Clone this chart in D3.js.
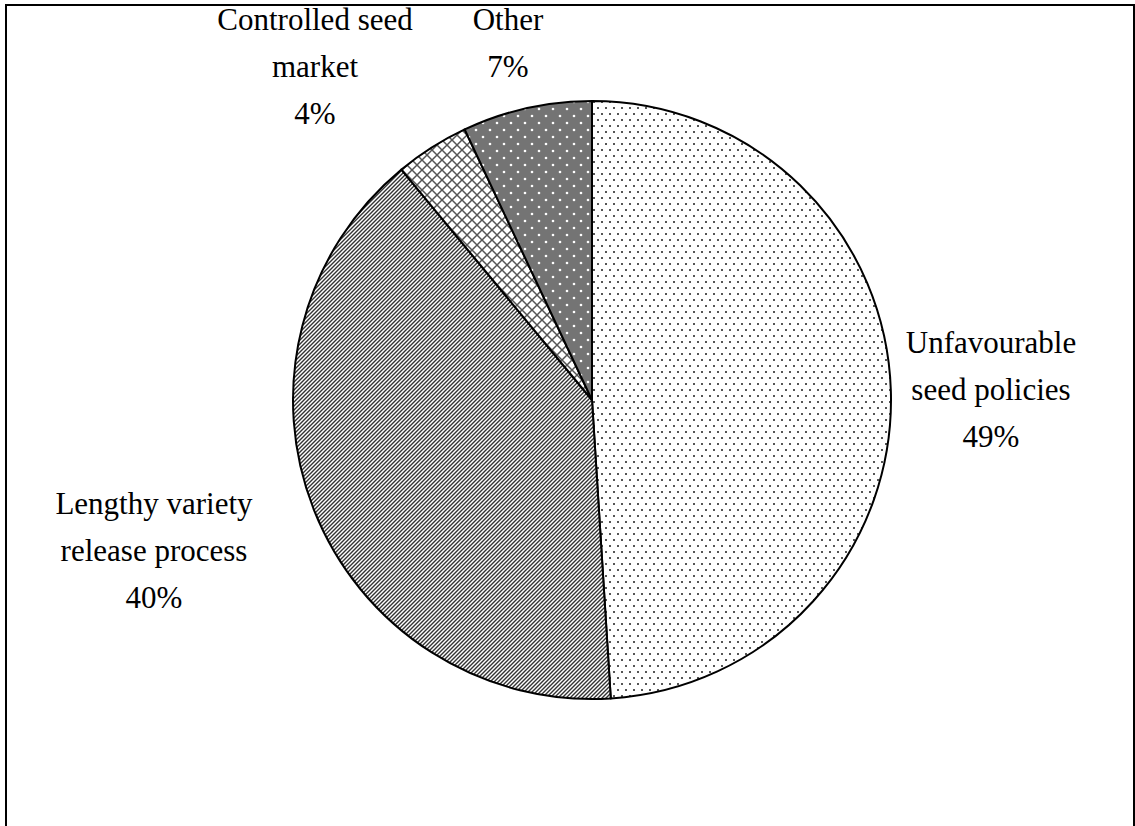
<!DOCTYPE html>
<html>
<head>
<meta charset="utf-8">
<script src="https://cdn.jsdelivr.net/npm/d3@7"></script>
<style>
  body{margin:0;background:#fff;}
  svg{display:block;}
</style>
</head>
<body>
<script>
// chart data
const categories=["Unfavourable seed policies","Lengthy variety release process","Controlled seed market","Other"]
const values=[49,40,4,7]
const labelLines=[
  ["Unfavourable","seed policies","49%"],
  ["Lengthy variety","release process","40%"],
  ["Controlled seed","market","4%"],
  ["Other","7%"]
]
const labelPos=[[991,353],[154,514],[315,30],[508,30]]   // x centre, first baseline
const patterns=["dots","diag","cross","darkdots"]

const w=1135, h=826
const cx=592, cy=400, r=299

const svg=d3.select("body").append("svg").attr("width",w).attr("height",h)
const defs=svg.append("defs")

// fill patterns
let p=defs.append("pattern").attr("id","dots").attr("patternUnits","userSpaceOnUse")
  .attr("width",8).attr("height",12)
p.append("rect").attr("width",8).attr("height",12).attr("fill","#fff")
p.append("rect").attr("x",1).attr("y",1).attr("width",2).attr("height",2).attr("fill","#555")
p.append("rect").attr("x",5).attr("y",7).attr("width",2).attr("height",2).attr("fill","#555")

p=defs.append("pattern").attr("id","diag").attr("patternUnits","userSpaceOnUse")
  .attr("width",4).attr("height",4)
p.append("rect").attr("width",4).attr("height",4).attr("fill","#fff")
p.append("path").attr("d","M-1,1 L1,-1 M0,4 L4,0 M3,5 L5,3").attr("stroke","#333").attr("stroke-width",1.4)

p=defs.append("pattern").attr("id","cross").attr("patternUnits","userSpaceOnUse")
  .attr("width",10).attr("height",10)
p.append("rect").attr("width",10).attr("height",10).attr("fill","#fff")
p.append("path").attr("d","M0,0 L10,10 M10,0 L0,10").attr("stroke","#555").attr("stroke-width",1.5)

p=defs.append("pattern").attr("id","darkdots").attr("patternUnits","userSpaceOnUse")
  .attr("width",14).attr("height",14)
p.append("rect").attr("width",14).attr("height",14).attr("fill","#747474")
p.append("circle").attr("cx",3).attr("cy",3).attr("r",1.3).attr("fill","#fff")
p.append("circle").attr("cx",10).attr("cy",10).attr("r",1.3).attr("fill","#fff")

// frame
svg.append("rect").attr("x",6).attr("y",5).attr("width",1128).attr("height",900)
  .attr("fill","none").attr("stroke","#000").attr("stroke-width",2)

const pie=d3.pie().sort(null).value(d=>d)
const arc=d3.arc().innerRadius(0).outerRadius(r)

const g=svg.append("g").attr("transform","translate("+cx+","+cy+")")
g.selectAll("path")
  .data(pie(values))
  .enter()
  .append("path")
  .attr("d",arc)
  .attr("fill",(d,i)=>"url(#"+patterns[i]+")")
  .attr("stroke","#000")
  .attr("stroke-width",2)
  .attr("stroke-linejoin","round")

// labels
labelLines.forEach((lines,i)=>{
  const t=svg.append("text")
    .attr("text-anchor","middle")
    .attr("font-family","'Liberation Serif','Times New Roman',serif")
    .attr("font-size",31)
    .attr("fill","#000")
  lines.forEach((s,j)=>{
    t.append("tspan").attr("x",labelPos[i][0]).attr("y",labelPos[i][1]+j*47).text(s)
  })
})
</script>
</body>
</html>
